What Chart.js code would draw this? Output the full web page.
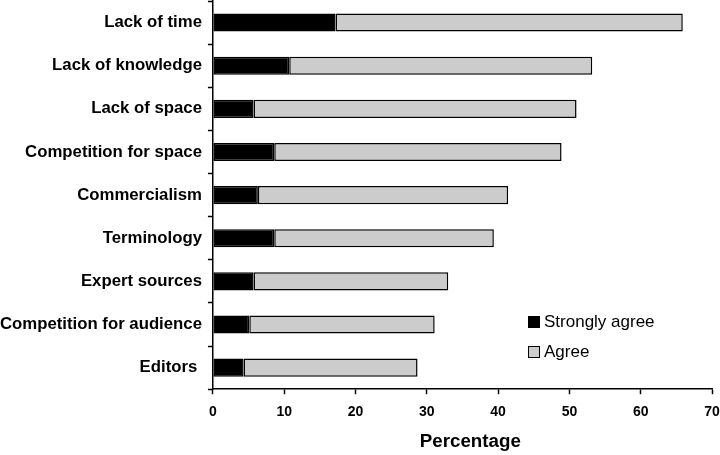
<!DOCTYPE html>
<html>
<head>
<meta charset="utf-8">
<script src="https://cdn.jsdelivr.net/npm/chart.js@4/dist/chart.umd.min.js"></script>
<style>
    html, body { margin: 0; padding: 0; background: #fff; }
    #wrap { position: relative; width: 720px; height: 455px; }
    #legend {
        position: absolute; left: 528px; top: 307px;
        font-family: "Liberation Sans", Arial, sans-serif; font-size: 17px; color: #000;
    }
    .lg-row { display: flex; align-items: center; height: 30px; }
    .lg-box { width: 12px; height: 12px; box-sizing: border-box; border: 1px solid #000; margin-right: 4px; }
</style>
</head>
<body>
<div id="wrap">
    <canvas id="chart_barriers" width="720" height="455"></canvas>
    <div id="legend"></div>
</div>
<script>
// ----------------------- data -----------------------

const categories = [
    "Lack of time",
    "Lack of knowledge",
    "Lack of space",
    "Competition for space",
    "Commercialism",
    "Terminology",
    "Expert sources",
    "Competition for audience",
    "Editors "
];

// percentages
const stronglyAgree = [17.2, 10.7, 5.7, 8.6, 6.3, 8.6, 5.7, 5.1, 4.3];
const agree = [48.7, 42.5, 45.3, 40.3, 35.1, 30.8, 27.3, 26.0, 24.4];

const xTicks = [0, 10, 20, 30, 40, 50, 60, 70];

const FONT = "'Liberation Sans', Arial, Helvetica, sans-serif";

// ----------------------- chart -----------------------

const ctx = document.getElementById("chart_barriers");

const barriersChart = new Chart(ctx, {
    type: "bar",
    data: {
        labels: categories,
        datasets: [
            {
                label: "Strongly agree",
                data: stronglyAgree,
                backgroundColor: "#000000",
                borderColor: "#000000",
                borderWidth: 1.5,
                borderSkipped: false,
            },
            {
                label: "Agree",
                data: agree,
                backgroundColor: "#cccccc",
                borderColor: "#000000",
                borderWidth: 1.5,
                borderSkipped: false,
            }
        ]
    },
    options: {
        indexAxis: "y",
        responsive: false,
        animation: false,
        layout: { padding: { top: 0, right: 0, bottom: 0, left: -6 } },
        datasets: {
            bar: { categoryPercentage: 1, barPercentage: 0.42 }
        },
        plugins: {
            legend: { display: false },
            tooltip: { enabled: false }
        },
        scales: {
            x: {
                stacked: true,
                min: 0,
                max: 70,
                afterBuildTicks: axis => {
                    axis.ticks = xTicks.map(v => ({ value: v }));
                },
                // only keep room for half of the "70" label on the right
                afterFit: axis => {
                    axis.paddingLeft = 0;
                    axis.paddingRight = 8;
                },
                grid: {
                    drawOnChartArea: false,
                    drawTicks: true,
                    tickLength: 5,
                    tickColor: "#000",
                    tickWidth: 1.5
                },
                border: { display: true, color: "#000", width: 1.5 },
                ticks: {
                    color: "#000",
                    padding: 9.5,
                    maxRotation: 0,
                    font: { family: FONT, size: 14, weight: "bold" }
                },
                title: {
                    display: true,
                    // leading spaces: the original title sits a little right of centre
                    text: "   Percentage",
                    color: "#000",
                    padding: { top: 0.5, bottom: 2 },
                    font: { family: FONT, size: 18.75, weight: "bold" }
                }
            },
            y: {
                stacked: true,
                offset: true,
                afterFit: axis => {
                    axis.paddingTop = 1;
                    axis.paddingBottom = 0;
                },
                grid: {
                    offset: true,
                    drawOnChartArea: false,
                    drawTicks: true,
                    tickLength: 5,
                    tickColor: "#000",
                    tickWidth: 1.5
                },
                border: { display: true, color: "#000", width: 1.5 },
                ticks: {
                    color: "#000",
                    padding: 6,
                    autoSkip: false,
                    font: { family: FONT, size: 16.75, weight: "bold" }
                }
            }
        }
    }
});

// ----------------------- legend -----------------------

function buildLegend(chart) {
    const container = document.getElementById("legend");
    container.innerHTML = "";
    chart.data.datasets.forEach(ds => {
        const row = document.createElement("div");
        row.className = "lg-row";
        row.innerHTML = `
            <div class="lg-box" style="background:${ds.backgroundColor};"></div>
            <span>${ds.label}</span>
        `;
        container.appendChild(row);
    });
}

buildLegend(barriersChart);
</script>
</body>
</html>
